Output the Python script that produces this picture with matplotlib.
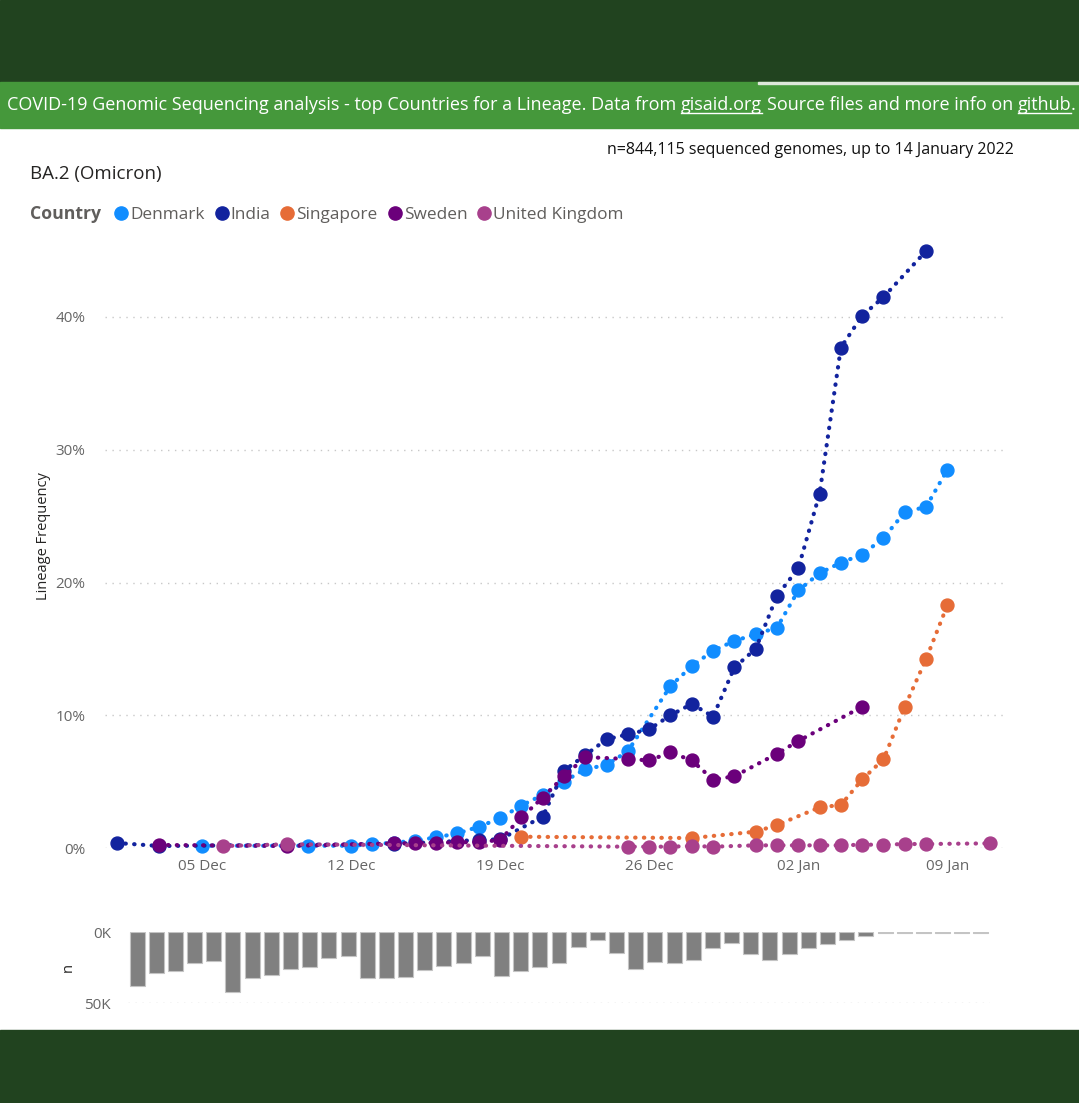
import matplotlib.pyplot as plt
import matplotlib.dates as mdates
from matplotlib.patches import Rectangle
from matplotlib.lines import Line2D
import numpy as np

plt.rcParams['font.family'] = ['Open Sans', 'DejaVu Sans']

start = np.datetime64('2021-12-01')

countries = ['Denmark', 'India', 'Singapore', 'Sweden', 'United Kingdom']
colors = ['#118DFF', '#12239E', '#E66C37', '#6B007B', '#A8408C']

# days since 1 Dec 2021 / lineage frequency in %
denmark_day = [4, 9, 11, 12, 13, 14, 15, 16, 17, 18, 19, 20, 21, 22, 23, 24,
               26, 27, 28, 29, 30, 31, 32, 33, 34, 35, 36, 37, 38, 39]
denmark_pct = [0.17, 0.17, 0.17, 0.28, 0.4, 0.55, 0.8, 1.1, 1.6, 2.24, 3.2, 4.0,
               5.0, 5.95, 6.25, 7.3, 12.2, 13.7, 14.86, 15.6, 16.1, 16.6, 19.4,
               20.7, 21.5, 22.1, 23.35, 25.3, 25.7, 28.5]

india_day = [0, 2, 13, 17, 18, 20, 21, 22, 23, 24, 25, 26, 27, 28, 29, 30, 31,
             32, 33, 34, 35, 36, 38]
india_pct = [0.38, 0.15, 0.3, 0.6, 0.65, 2.36, 5.82, 7.0, 8.19, 8.56, 8.94, 10.0,
             10.85, 9.9, 13.6, 15.0, 19.0, 21.07, 26.7, 37.7, 40.1, 41.5, 44.97]

singapore_day = [19, 27, 30, 31, 33, 34, 35, 36, 37, 38, 39]
singapore_pct = [0.85, 0.75, 1.23, 1.73, 3.06, 3.24, 5.17, 6.68, 10.65, 14.24, 18.3]

sweden_day = [2, 8, 13, 14, 15, 16, 17, 18, 19, 20, 21, 22, 24, 25, 26, 27, 28,
              29, 31, 32, 35]
sweden_pct = [0.23, 0.15, 0.35, 0.35, 0.4, 0.43, 0.45, 0.6, 2.3, 3.8, 5.4, 6.85,
              6.7, 6.6, 7.2, 6.6, 5.15, 5.4, 7.1, 8.06, 10.64]

uk_day = [5, 8, 24, 25, 26, 27, 28, 30, 31, 32, 33, 34, 35, 36, 37, 38, 41]
uk_pct = [0.15, 0.28, 0.1, 0.1, 0.1, 0.15, 0.1, 0.2, 0.2, 0.2, 0.2, 0.2, 0.25,
          0.25, 0.3, 0.3, 0.35]

series_days = [denmark_day, india_day, singapore_day, sweden_day, uk_day]
series_pct = [denmark_pct, india_pct, singapore_pct, sweden_pct, uk_pct]

# sequenced genomes per day, thousands
sequenced_k = [37.6, 28.9, 27.2, 21.8, 20.2, 41.8, 31.9, 29.8, 25.6, 24.6, 18.1,
               16.9, 32.4, 32.4, 31.5, 26.5, 23.9, 21.8, 16.4, 30.5, 27.2, 24.6,
               21.8, 10.1, 5.6, 14.3, 25.8, 21.1, 21.6, 19.5, 11.3, 7.7, 15.5,
               19.5, 15.3, 11.3, 8.5, 5.4, 2.6, 0.8, 0.8, 0.8, 0.8, 0.8, 0.8]

banner_text = ['COVID-19 Genomic Sequencing analysis - top Countries for a Lineage. Data from',
               'gisaid.org', 'Source files and more info on', 'github', '.']
banner_link = [False, True, False, True, False]

W, H = 1079, 1103
fig = plt.figure(figsize=(W / 100, H / 100), dpi=100)
fig.patch.set_facecolor('white')
r = fig.canvas.get_renderer()

# page frame
fig.patches.append(Rectangle((0, 1 - 82 / H), 1, 82 / H, transform=fig.transFigure,
                             color='#21431F', zorder=0))
fig.patches.append(Rectangle((0, 1 - 128 / H), 1, 46 / H, transform=fig.transFigure,
                             color='#45983B', zorder=0))
fig.patches.append(Rectangle((758 / W, 1 - 84 / H), 1, 2 / H, transform=fig.transFigure,
                             color='#DDE8DA', zorder=1))
fig.patches.append(Rectangle((0, 0), 1, 73 / H, transform=fig.transFigure,
                             color='#21431F', zorder=0))


def text_width(s, fs, **kw):
    t = fig.text(0, 0, s, fontsize=fs, **kw)
    w = t.get_window_extent(r).width
    t.remove()
    return w


def fit_size(s, target, **kw):
    return 12 * target / text_width(s, 12, **kw)


# banner, fitted to its width in the reference
fs = 12
space = text_width('x x', fs) - text_width('xx', fs)
total = sum(text_width(s, fs) for s in banner_text) + space * (len(banner_text) - 2)
fs = fs * (1063 / total)
space = text_width('x x', fs) - text_width('xx', fs)
x = 7
yb = 110
for i, (s, link) in enumerate(zip(banner_text, banner_link)):
    t = fig.text(x / W, 1 - yb / H, s, fontsize=fs, color='white', va='baseline')
    w = t.get_window_extent(r).width
    if link:
        fig.lines.append(Line2D([x / W, (x + w) / W], [1 - (yb + 3) / H] * 2,
                                transform=fig.transFigure, color='white', lw=1))
    x += w
    if i < len(banner_text) - 2:
        x += space

sub = 'n=844,115 sequenced genomes, up to 14 January 2022'
fig.text(1014 / W, 1 - 154 / H, sub, fontsize=fit_size(sub, 408),
         color='#111111', ha='right', va='baseline')
fig.text(30 / W, 1 - 179 / H, 'BA.2 (Omicron)', fontsize=fit_size('BA.2 (Omicron)', 131),
         color='#252423', va='baseline')

# legend row
x = 30
yl = 219
t = fig.text(x / W, 1 - yl / H, 'Country',
             fontsize=fit_size('Country', 71, fontweight='bold'), fontweight='bold',
             color='#605E5C', va='baseline')
x = 115
lfs = fit_size('Denmark', 74)
for name, c in zip(countries, colors):
    fig.lines.append(Line2D([(x + 6) / W], [1 - (yl - 6) / H], transform=fig.transFigure,
                            marker='o', markersize=9.5, color=c, lw=0))
    t = fig.text((x + 15) / W, 1 - yl / H, name, fontsize=lfs, color='#605E5C',
                 va='baseline')
    x += 15 + t.get_window_extent(r).width + 11

# main chart
ymax = 47
ax = fig.add_axes([105 / W, (H - 848) / H, 900 / W, ymax * 13.275 / H])
for d, p, c in zip(series_days, series_pct, colors):
    dates = start + np.array(d).astype('timedelta64[D]')
    ax.plot(dates, p, color=c, lw=3.0, linestyle=(0, (0.1, 2.0)),
            dash_capstyle='round', marker='o', markersize=9.3, clip_on=False)

px_day = 21.3
ax.set_xlim(start - np.timedelta64(int(11.7 / px_day * 24 * 60), 'm'),
            start + np.timedelta64(int((1005 - 116.7) / px_day * 24 * 60), 'm'))
ax.set_ylim(0, ymax)
ax.set_yticks([0, 10, 20, 30, 40])
ax.set_yticklabels(['0%', '10%', '20%', '30%', '40%'])
ax.set_xticks([start + np.timedelta64(k, 'D') for k in [4, 11, 18, 25, 32, 39]])
ax.xaxis.set_major_formatter(mdates.DateFormatter('%d %b'))
ax.tick_params(length=0, labelsize=11, labelcolor='#666666', pad=8)
ax.tick_params(axis='y', pad=14)
ax.grid(axis='y', color='#C8C8C8', linestyle=(0, (1, 4)), lw=1)
ax.set_axisbelow(True)
for s in ax.spines.values():
    s.set_visible(False)
ax.set_ylabel('Lineage Frequency', fontsize=10.5, color='#252423', labelpad=3)

# sequenced count bar chart
bx = fig.add_axes([127.5 / W, (H - 1003.3) / H, 863 / W, 71 / H])
bx.bar(np.arange(len(sequenced_k)), sequenced_k, width=0.78, color='#808080',
       edgecolor='#C4C4C4', lw=0.8)
bx.set_xlim(-0.5, len(sequenced_k) - 0.5)
bx.set_ylim(50, 0)
bx.set_yticks([0, 50])
bx.set_yticklabels(['0K', '50K'])
bx.set_xticks([])
bx.tick_params(length=0, labelsize=11, labelcolor='#666666', pad=12)
bx.grid(axis='y', color='#C8C8C8', linestyle=(0, (1, 4)), lw=1)
bx.get_ygridlines()[0].set_visible(False)
bx.set_axisbelow(True)
for s in bx.spines.values():
    s.set_visible(False)
bx.set_ylabel('n', fontsize=10.5, color='#252423', labelpad=6)

fig.savefig('out.png', dpi=100, facecolor='white')
